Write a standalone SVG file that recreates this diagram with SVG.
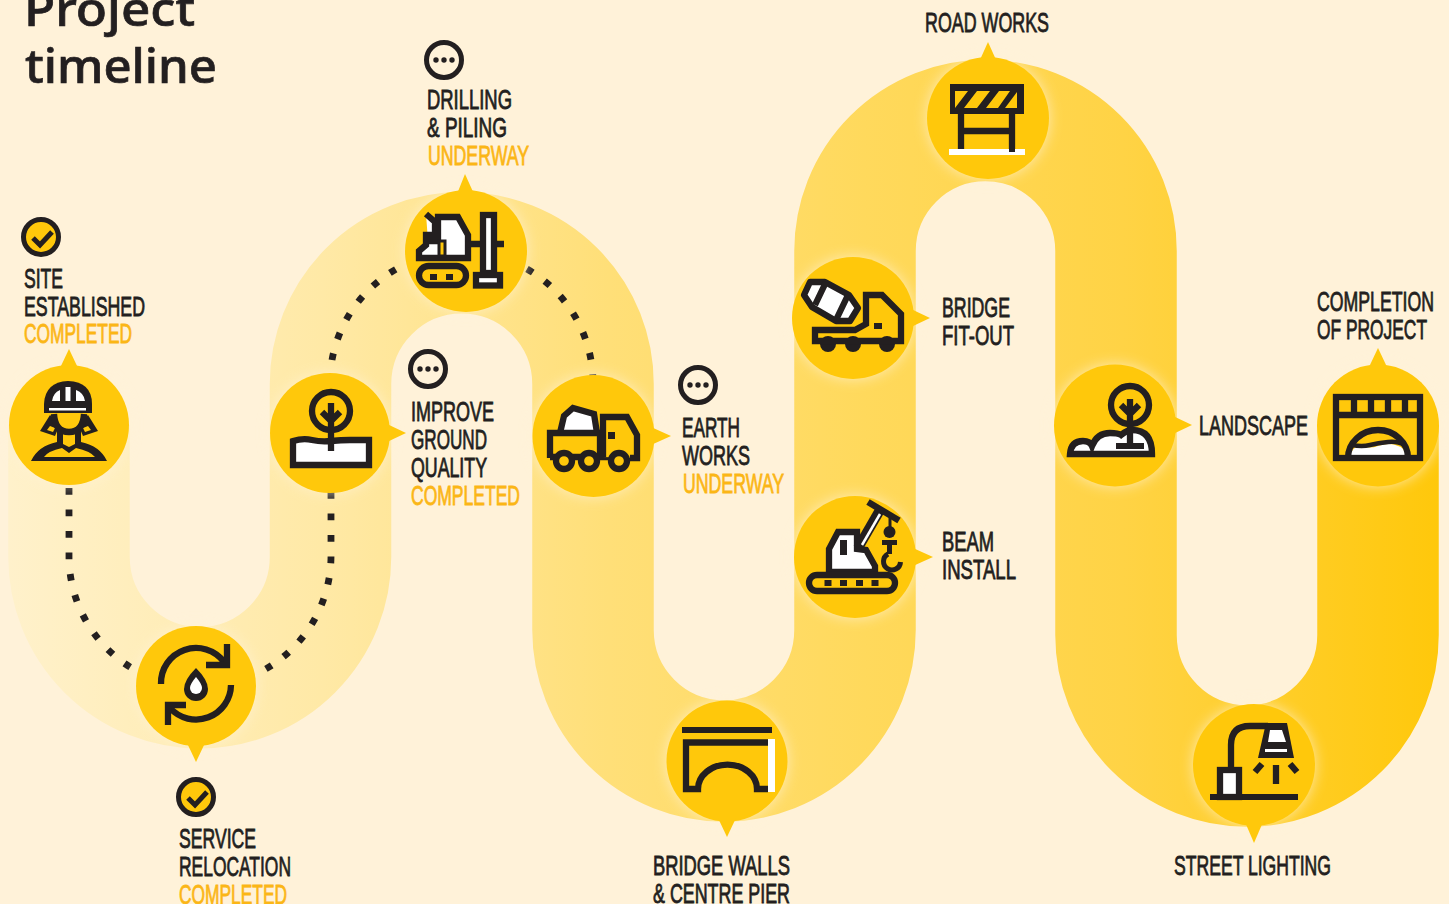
<svg xmlns="http://www.w3.org/2000/svg" width="1449" height="904" viewBox="0 0 1449 904">
<style>
.t{font-family:"Liberation Sans Narrow","Liberation Sans",sans-serif;font-size:28px;font-weight:400;fill:#231f20;stroke:#231f20;stroke-width:.85px}
.s{fill:#fbb616;stroke:#fbb616}
.title{font-family:"Noto Sans","Open Sans",sans-serif;font-size:48px;font-weight:500;fill:#231f20;stroke:#231f20;stroke-width:.7px}
.c{fill:#ffc80b}
.glow{fill:#fff3d6;opacity:.75;filter:url(#blur)}
.k{fill:none;stroke:#231f20;stroke-width:6.300}
.ky{fill:#ffc80b;stroke:#231f20;stroke-width:6.300}
.kw{fill:#fff;stroke:#231f20;stroke-width:6.300}
.f{fill:#231f20}
.w{fill:#fff}
.dots{fill:none;stroke:#231f20;stroke-width:6.800;stroke-dasharray:6.800 14.700}
.badge{stroke:#231f20;stroke-width:5}
</style>
<defs>
<linearGradient id="road" gradientUnits="userSpaceOnUse" x1="8" y1="0" x2="1438" y2="0">
<stop offset="0" stop-color="#fff1cb"/><stop offset=".22" stop-color="#ffe9a6"/><stop offset=".42" stop-color="#ffdf78"/><stop offset=".6" stop-color="#ffd95c"/><stop offset=".78" stop-color="#ffd345"/><stop offset="1" stop-color="#ffc80b"/>
</linearGradient>
<filter id="blur" x="-30%" y="-30%" width="160%" height="160%"><feGaussianBlur stdDeviation="7"/></filter>
</defs>
<rect width="1449" height="904" fill="#fff2d9"/>
<g id="road-band"><path d="M69 425V557A130.750 130.750 0 0 0 330.500 557V384A131.250 131.250 0 0 1 593 384V630A131 131 0 0 0 855 630V251A130.500 130.500 0 0 1 1116 251V635A131 131 0 0 0 1378 635V425" fill="none" stroke="url(#road)" stroke-width="121.500"/></g>
<g id="connectors">
<path class="dots" d="M69 488V557A130.750 130.750 0 0 0 135 670"/>
<path class="dots" d="M331 492V557A130.750 130.750 0 0 1 264 670"/>
<path class="dots" d="M332 360A131.250 131.250 0 0 1 400 267"/>
<path class="dots" d="M527 269A131.250 131.250 0 0 1 593 384"/>
</g>
<g id="title"><text class="title" x="24" y="26" textLength="171" lengthAdjust="spacingAndGlyphs">Project</text><text class="title" x="25" y="83" textLength="192" lengthAdjust="spacingAndGlyphs">timeline</text></g>

<g id="site">
<circle class="glow" cx="69" cy="425" r="60"/><circle class="c" cx="69" cy="425" r="60"/><path class="c" d="M60 368L69 349L78 368Z"/>
<path class="f" d="M50 415L40 431L55 436L60 424ZM88 415L98 431L83 436L78 424Z"/>
<path class="c" d="M50 426L47 430L53 432L55 428ZM88 426L91 430L85 432L83 428Z"/>
<path class="ky" d="M54 414Q55 432 69 432Q83 432 84 414"/>
<path class="f" d="M44 413V404Q45 382 68 381Q92 382 92 404V413Z"/>
<path class="w" d="M52 401Q53 393 60 390V401ZM65.500 387H70.500V401H65.500ZM76 390Q84 393 85 401H76ZM49 408H86V410.500H49Z"/>
<path class="f" d="M31 461Q38 446 57 442V430H63V444L69 447L75 444V430H81V442Q100 446 107 461Z"/>
<path class="c" d="M44 457Q48 451 62 448L69 453L76 448Q90 451 95 457Z"/>
<circle class="c badge" cx="41" cy="237" r="17.500"/><path class="k" style="stroke-width:5" d="M33 238L40 245L52 232"/>
<text class="t" x="24" y="287.500" textLength="39" lengthAdjust="spacingAndGlyphs">SITE</text>
<text class="t" x="24" y="315.500" textLength="121" lengthAdjust="spacingAndGlyphs">ESTABLISHED</text>
<text class="t s" x="24" y="343" textLength="108" lengthAdjust="spacingAndGlyphs">COMPLETED</text>
</g>

<g id="service-relocation">
<circle class="glow" cx="196" cy="686" r="60"/><circle class="c" cx="196" cy="686" r="60"/><path class="c" d="M187 743L196 762L205 743Z"/>
<path class="k" d="M161 684A35 35 0 0 1 224 662M231 685A35 35 0 0 1 170 708"/>
<path class="k" d="M227 644V665H206M186 705H168V725"/>
<path class="f" d="M196 668Q208 680 208 689A12 12 0 0 1 184 689Q184 680 196 668Z"/><path class="w" d="M196 677Q202 684 202 688A6 6 0 0 1 190 688Q190 684 196 677Z"/>
<circle class="c badge" cx="196" cy="797" r="17.500"/><path class="k" style="stroke-width:5" d="M188 798L195 805L207 792"/>
<text class="t" x="179" y="848" textLength="77" lengthAdjust="spacingAndGlyphs">SERVICE</text>
<text class="t" x="179" y="876" textLength="112" lengthAdjust="spacingAndGlyphs">RELOCATION</text>
<text class="t s" x="179" y="904" textLength="108" lengthAdjust="spacingAndGlyphs">COMPLETED</text>
</g>

<g id="improve-ground">
<circle class="glow" cx="330" cy="433" r="60"/><circle class="c" cx="330" cy="433" r="60"/><path class="c" d="M387 424L406 433L387 442Z"/>
<circle class="k" cx="331" cy="411" r="19"/>
<path class="kw" d="M293 441Q303 438 312 440T331 441T350 440T369 440V465H293Z"/>
<path class="k" d="M331 403V451M322 412L331 421L340 412"/>
<circle class="ky" style="fill:#fff2d9;stroke-width:5" cx="428" cy="369" r="17.500"/><circle class="f" cx="420" cy="369" r="2.700"/><circle class="f" cx="428" cy="369" r="2.700"/><circle class="f" cx="436" cy="369" r="2.700"/>
<text class="t" x="411" y="420.500" textLength="83" lengthAdjust="spacingAndGlyphs">IMPROVE</text>
<text class="t" x="411" y="448.500" textLength="76" lengthAdjust="spacingAndGlyphs">GROUND</text>
<text class="t" x="411" y="476.500" textLength="76" lengthAdjust="spacingAndGlyphs">QUALITY</text>
<text class="t s" x="411" y="505" textLength="109" lengthAdjust="spacingAndGlyphs">COMPLETED</text>
</g>

<g id="drilling-piling">
<circle class="glow" cx="466" cy="251" r="61"/><circle class="c" cx="466" cy="251" r="61"/><path class="c" d="M457 194L465 174L474 194Z"/>
<rect class="k" x="419" y="266" width="47" height="19" rx="9.500"/>
<rect class="f" x="430" y="274" width="7" height="6"/><rect class="f" x="446" y="274" width="7" height="6"/>
<path class="kw" d="M426 214L435 222V235H426V245L419 251V258H468V235L458 217H438V241H428"/>
<path class="ky" style="stroke-width:3" d="M439 241H445V256H439Z"/>
<path class="k" d="M468 244H504"/>
<rect class="kw" x="483" y="215" width="11" height="58"/>
<rect class="kw" x="476" y="275" width="24" height="10.500"/>
<circle class="ky" style="fill:#fff2d9;stroke-width:5" cx="444" cy="60" r="17.500"/><circle class="f" cx="436" cy="60" r="2.700"/><circle class="f" cx="444" cy="60" r="2.700"/><circle class="f" cx="452" cy="60" r="2.700"/>
<text class="t" x="427" y="109" textLength="85" lengthAdjust="spacingAndGlyphs">DRILLING</text>
<text class="t" x="427" y="137" textLength="80" lengthAdjust="spacingAndGlyphs">&amp; PILING</text>
<text class="t s" x="428" y="165" textLength="101" lengthAdjust="spacingAndGlyphs">UNDERWAY</text>
</g>

<g id="earth-works">
<circle class="glow" cx="593.500" cy="436" r="61"/><circle class="c" cx="593.500" cy="436" r="61"/><path class="c" d="M651 427L671 436L651 445Z"/>
<path class="kw" d="M560 433L564 416L573 408L594 414L597 433"/>
<path class="k" d="M550 458V433H600V458"/>
<path class="k" d="M550 457H637"/>
<path class="ky" d="M603 457V417H627L637 435V458H630"/>
<rect class="f" x="608" y="432" width="7" height="7"/>
<circle class="ky" cx="564" cy="461" r="8"/><circle class="ky" cx="589" cy="461" r="8"/><circle class="ky" cx="619" cy="461" r="8"/>
<circle class="ky" style="fill:#fff2d9;stroke-width:5" cx="698" cy="385" r="17.500"/><circle class="f" cx="690" cy="385" r="2.700"/><circle class="f" cx="698" cy="385" r="2.700"/><circle class="f" cx="706" cy="385" r="2.700"/>
<text class="t" x="682" y="437" textLength="58" lengthAdjust="spacingAndGlyphs">EARTH</text>
<text class="t" x="682" y="465" textLength="68" lengthAdjust="spacingAndGlyphs">WORKS</text>
<text class="t s" x="683" y="493" textLength="101" lengthAdjust="spacingAndGlyphs">UNDERWAY</text>
</g>

<g id="bridge-walls">
<circle class="glow" cx="727" cy="761" r="60.500"/><circle class="c" cx="727" cy="761" r="60.500"/><path class="c" d="M718 818L727 837L736 818Z"/>
<rect class="w" x="768" y="739" width="7" height="53"/>
<path class="f" d="M682 727H772V733H682Z"/>
<path class="k" d="M768 742.500H686V789H698A29 24 0 0 1 757 789H768"/>
<text class="t" x="653" y="875" textLength="137" lengthAdjust="spacingAndGlyphs">BRIDGE WALLS</text>
<text class="t" x="653" y="903" textLength="137" lengthAdjust="spacingAndGlyphs">&amp; CENTRE PIER</text>
</g>

<g id="beam-install">
<circle class="glow" cx="855" cy="557" r="61"/><circle class="c" cx="855" cy="557" r="61"/><path class="c" d="M913 548L933 557L913 566Z"/>
<path class="kw" d="M829 572V549L838 532H857V549L866 550L875 566V572Z"/>
<rect class="f" x="840" y="540" width="7" height="15"/>
<path d="M858 548L880 510" stroke="#231f20" stroke-width="10" fill="none"/><path d="M862 545L880 514" stroke="#fff" stroke-width="2.500" fill="none"/>
<path d="M868 502L899 520.500" stroke="#231f20" stroke-width="6.500" fill="none"/>
<path class="k" style="stroke-width:3" d="M890 518V527"/>
<circle class="f" cx="889.500" cy="532" r="6"/><path class="f" d="M882 540H897V545H892V554H887V545H882Z"/>
<path class="k" style="stroke-width:5" d="M888 554A8.500 8.500 0 1 0 900.500 562"/>
<rect class="k" x="809" y="575" width="86" height="16" rx="8"/>
<rect class="f" x="824.500" y="580" width="7" height="6"/><rect class="f" x="840" y="580" width="7" height="6"/><rect class="f" x="856" y="580" width="7" height="6"/><rect class="f" x="871.500" y="580" width="7" height="6"/>
<text class="t" x="942" y="551" textLength="52" lengthAdjust="spacingAndGlyphs">BEAM</text>
<text class="t" x="942" y="579" textLength="74" lengthAdjust="spacingAndGlyphs">INSTALL</text>
</g>

<g id="bridge-fit-out">
<circle class="glow" cx="853" cy="318" r="61"/><circle class="c" cx="853" cy="318" r="61"/><path class="c" d="M911 309L930 318L911 327Z"/>
<circle class="f" cx="828" cy="344" r="8"/><circle class="f" cx="853" cy="344" r="8"/><circle class="f" cx="887" cy="344" r="8"/>
<path class="k" d="M815 330H855L866 324V295H882L901 314V341H815Z"/>
<rect class="f" x="874" y="323" width="8" height="6"/>
<path class="kw" stroke-linejoin="round" d="M810 282H825L849 295L858 308L850 321L836 321L812 307L804 295Z"/>
<path class="k" d="M826 282L815 305M848 295L836 320"/>
<text class="t" x="942" y="316.500" textLength="68" lengthAdjust="spacingAndGlyphs">BRIDGE</text>
<text class="t" x="942" y="344.500" textLength="72" lengthAdjust="spacingAndGlyphs">FIT-OUT</text>
</g>

<g id="road-works">
<circle class="glow" cx="988" cy="118" r="61"/><circle class="c" cx="988" cy="118" r="61"/><path class="c" d="M979 62L988 42L997 62Z"/>
<rect class="f" x="950" y="84" width="74" height="30"/>
<rect class="c" x="955" y="91" width="62" height="17"/>
<path class="f" d="M955 108L968 91H977L964 108ZM977 108L990 91H999L986 108ZM998 108L1010 91H1017V92L1005 108Z"/>
<path class="k" d="M961 114V150M1012 114V152M961 131H1012"/>
<rect class="w" x="949" y="149" width="76" height="6"/>
<path class="f" d="M1009 148H1015V152H1009Z"/>
<text class="t" x="925" y="32" textLength="124" lengthAdjust="spacingAndGlyphs">ROAD WORKS</text>
</g>

<g id="landscape">
<circle class="glow" cx="1115" cy="425.500" r="61"/><circle class="c" cx="1115" cy="425.500" r="61"/><path class="c" d="M1173 416L1192 425L1173 434Z"/>
<circle class="k" cx="1130" cy="405" r="19"/>
<path class="kw" d="M1070 454Q1071 441 1083 441Q1090 441 1092 446Q1097 433 1110 433Q1118 433 1121 435Q1127 430 1132 430Q1152 430 1152 454Z"/>
<path class="k" d="M1130 399V445M1121 405L1130 414L1139 405"/>
<path class="f" d="M1116 443H1144V449H1116Z"/>
<text class="t" x="1199" y="434.500" textLength="109" lengthAdjust="spacingAndGlyphs">LANDSCAPE</text>
</g>

<g id="completion">
<circle class="glow" cx="1378" cy="425.500" r="61"/><circle class="c" cx="1378" cy="425.500" r="61"/><path class="c" d="M1369 367L1378 348L1387 367Z"/>
<path class="w" d="M1350 456Q1352 447 1360 446Q1370 449 1378 446Q1390 442 1398 446Q1404 447 1406 456Z"/>
<rect class="k" x="1336" y="397" width="84" height="61"/>
<path class="k" d="M1336 415H1420M1354 397V415M1371 397V415M1388 397V415M1405 397V415"/>
<path class="k" d="M1348 458A30 28 0 0 1 1408 458"/>
<path class="k" style="stroke-width:4.500" d="M1352 445Q1362 447 1370 445T1388 442T1404 445"/>
<text class="t" x="1317" y="311" textLength="117" lengthAdjust="spacingAndGlyphs">COMPLETION</text>
<text class="t" x="1317" y="339" textLength="110" lengthAdjust="spacingAndGlyphs">OF PROJECT</text>
</g>

<g id="street-lighting">
<circle class="glow" cx="1254" cy="765" r="61"/><circle class="c" cx="1254" cy="765" r="61"/><path class="c" d="M1245 822L1254 843L1263 822Z"/>
<path class="f" d="M1210 794H1298V800H1210Z"/>
<rect class="kw" x="1220" y="770" width="19" height="27"/>
<path class="k" d="M1231 767V745Q1231 726 1250 726H1268"/>
<path class="f" d="M1266 723H1287L1294 758H1258Z"/>
<path class="w" d="M1270 730H1282L1286 742H1268ZM1265 749H1287V752H1265Z"/>
<path class="k" d="M1262 764L1255 772M1276 765V784M1290 764L1297 772"/>
<text class="t" x="1174" y="875" textLength="157" lengthAdjust="spacingAndGlyphs">STREET LIGHTING</text>
</g>
</svg>
